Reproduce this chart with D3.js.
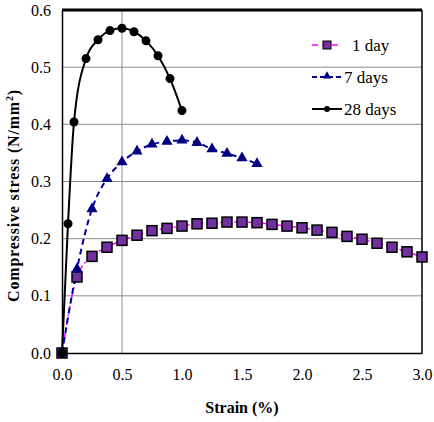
<!DOCTYPE html>
<meta charset="utf-8">
<body style="margin:0;background:#fff">
<svg width="434" height="422"></svg>
<script src="https://cdn.jsdelivr.net/npm/d3@7"></script>
<script>
    // values
    var strain1 = [0, 0.125, 0.25, 0.375, 0.5, 0.625, 0.75, 0.875, 1.0, 1.125, 1.25, 1.375, 1.5, 1.625,
        1.75, 1.875, 2.0, 2.125, 2.25, 2.375, 2.5, 2.625, 2.75, 2.875, 3.0];
    var stress1 = [0, 0.133, 0.169, 0.185, 0.197, 0.206, 0.214, 0.218, 0.222, 0.226, 0.227, 0.229, 0.229, 0.228,
        0.225, 0.222, 0.219, 0.215, 0.211, 0.204, 0.199, 0.192, 0.185, 0.177, 0.168];
    var strain7 = [0, 0.125, 0.25, 0.375, 0.5, 0.625, 0.75, 0.875, 1.0, 1.125, 1.25, 1.375, 1.5, 1.625];
    var stress7 = [0, 0.147, 0.252, 0.305, 0.334, 0.353, 0.365, 0.370, 0.372, 0.368, 0.357, 0.349, 0.341, 0.331];
    var strain28 = [0, 0.05, 0.1, 0.2, 0.3, 0.4, 0.5, 0.6, 0.7, 0.8, 0.9, 1.0];
    var stress28 = [0, 0.226, 0.404, 0.515, 0.548, 0.564, 0.568, 0.562, 0.546, 0.520, 0.480, 0.424];
    var xTicks = [0, 0.5, 1.0, 1.5, 2.0, 2.5, 3.0];
    var yTicks = [0, 0.1, 0.2, 0.3, 0.4, 0.5, 0.6];
    var seriesNames = ['1 day', '7 days', '28 days'];

    var FONT = 'Times New Roman';
    var svg = d3.select('svg');
    var margin = {left: 62, top: 10, right: 12, bottom: 69};
    var width = +svg.attr('width') - margin.left - margin.right;
    var height = +svg.attr('height') - margin.top - margin.bottom;
    var g = svg.append('g').attr('transform', `translate(${margin.left},${margin.top})`);

    var x = d3.scaleLinear().domain([0, 3]).range([0, width]);
    var y = d3.scaleLinear().domain([0, 0.6]).range([height, 0]);

    function serif(sel) {
        return sel.attr('font-family', FONT);
    }

    // gridlines
    var grid = g.append('g').attr('stroke', '#8c8c8c').attr('stroke-width', 1);
    grid.selectAll('.h').data(yTicks.filter(function (d) { return d > 0 && d < 0.6; }))
        .enter().append('line')
        .attr('x1', 0).attr('x2', width)
        .attr('y1', function (d) { return y(d); }).attr('y2', function (d) { return y(d); });
    grid.append('line')
        .attr('x1', x(0.5)).attr('x2', x(0.5))
        .attr('y1', 0).attr('y2', height);

    // frame
    g.append('line').attr('x1', 0).attr('x2', width).attr('y1', 0).attr('y2', 0)
        .attr('stroke', '#000').attr('stroke-width', 3);
    g.append('line').attr('x1', width).attr('x2', width).attr('y1', 0).attr('y2', height)
        .attr('stroke', '#000').attr('stroke-width', 1.5);

    var xAxis = g.append('g')
        .attr('transform', `translate(0,${height})`)
        .call(d3.axisBottom(x).tickValues(xTicks).tickFormat(d3.format('.1f')).tickSize(0).tickPadding(16));
    var yAxis = g.append('g')
        .call(d3.axisLeft(y).tickValues(yTicks).tickFormat(d3.format('.1f')).tickSize(0).tickPadding(11));
    [xAxis, yAxis].forEach(function (a) {
        serif(a).attr('font-size', 16);
        a.select('.domain').attr('stroke', '#000').attr('stroke-width', 1.5);
        serif(a.selectAll('text')).attr('font-size', 16).attr('fill', '#000');
    });

    var line = d3.line()
        .x(function (d) { return x(d[0]); })
        .y(function (d) { return y(d[1]); })
        .curve(d3.curveMonotoneX);

    function zip(a, b) { return a.map(function (v, i) { return [v, b[i]]; }); }
    var d1 = zip(strain1, stress1), d7 = zip(strain7, stress7), d28 = zip(strain28, stress28);

    // 1 day
    g.append('path').attr('d', line(d1)).attr('fill', 'none')
        .attr('stroke', '#ff00ff').attr('stroke-width', 1.5).attr('stroke-dasharray', '6,3,2,3');
    // 7 days
    g.append('path').attr('d', line(d7)).attr('fill', 'none')
        .attr('stroke', '#0000a0').attr('stroke-width', 2).attr('stroke-dasharray', '6,4');
    // 28 days
    g.append('path').attr('d', line(d28)).attr('fill', 'none')
        .attr('stroke', '#000').attr('stroke-width', 2);

    var tri = d3.symbol().type(d3.symbolTriangle).size(55);
    g.selectAll('.sq').data(d1).enter().append('rect')
        .attr('x', function (d) { return x(d[0]) - 5; })
        .attr('y', function (d) { return y(d[1]) - 5; })
        .attr('width', 10).attr('height', 10)
        .attr('fill', '#7030a0').attr('stroke', '#000').attr('stroke-width', 1.5);
    g.selectAll('.tri').data(d7).enter().append('path')
        .attr('d', tri)
        .attr('transform', function (d) { return `translate(${x(d[0])},${y(d[1])})`; })
        .attr('fill', '#000080');
    g.selectAll('.dot').data(d28).enter().append('circle')
        .attr('cx', function (d) { return x(d[0]); })
        .attr('cy', function (d) { return y(d[1]); })
        .attr('r', 4.5).attr('fill', '#000');

    // legend
    var lg = svg.append('g').attr('transform', 'translate(312,45)');
    var rows = lg.selectAll('g').data(seriesNames).enter().append('g')
        .attr('transform', function (d, i) { return `translate(0,${i * 32})`; });
    rows.append('line').attr('x1', 0).attr('x2', 30).attr('y1', 0).attr('y2', 0)
        .attr('stroke', function (d, i) { return ['#ff00ff', '#0000a0', '#000'][i]; })
        .attr('stroke-width', function (d, i) { return i == 0 ? 1.5 : 2; })
        .attr('stroke-dasharray', function (d, i) { return ['6,4', '5,3', null][i]; });
    rows.filter(function (d, i) { return i == 0; }).append('rect')
        .attr('x', 11).attr('y', -4).attr('width', 8).attr('height', 8)
        .attr('fill', '#7030a0').attr('stroke', '#000').attr('stroke-width', 1);
    rows.filter(function (d, i) { return i == 1; }).append('path')
        .attr('d', d3.symbol().type(d3.symbolTriangle).size(30))
        .attr('transform', 'translate(15,-1)').attr('fill', '#000080');
    rows.filter(function (d, i) { return i == 2; }).append('circle')
        .attr('cx', 15).attr('cy', 0).attr('r', 3).attr('fill', '#000');
    serif(rows.append('text')).attr('x', function (d, i) { return i == 0 ? 40 : 32; }).attr('y', 6)
        .attr('font-size', 17).text(function (d) { return d; });

    // axis titles
    serif(svg.append('text')).attr('x', margin.left + width / 2).attr('y', 413)
        .attr('text-anchor', 'middle').attr('font-size', 16).attr('font-weight', 'bold')
        .text('Strain (%)');
    var yt = serif(svg.append('text')).attr('transform', 'translate(19,' + (margin.top + height / 2 + 14) + ') rotate(-90)')
        .attr('text-anchor', 'middle').attr('font-size', 16).attr('font-weight', 'bold')
        .attr('letter-spacing', 0.8);
    yt.append('tspan').text('Compressive stress (N/mm');
    yt.append('tspan').attr('font-size', 10).attr('dy', -6).text('2');
    yt.append('tspan').attr('dy', 6).text(')');
</script>
</body>
